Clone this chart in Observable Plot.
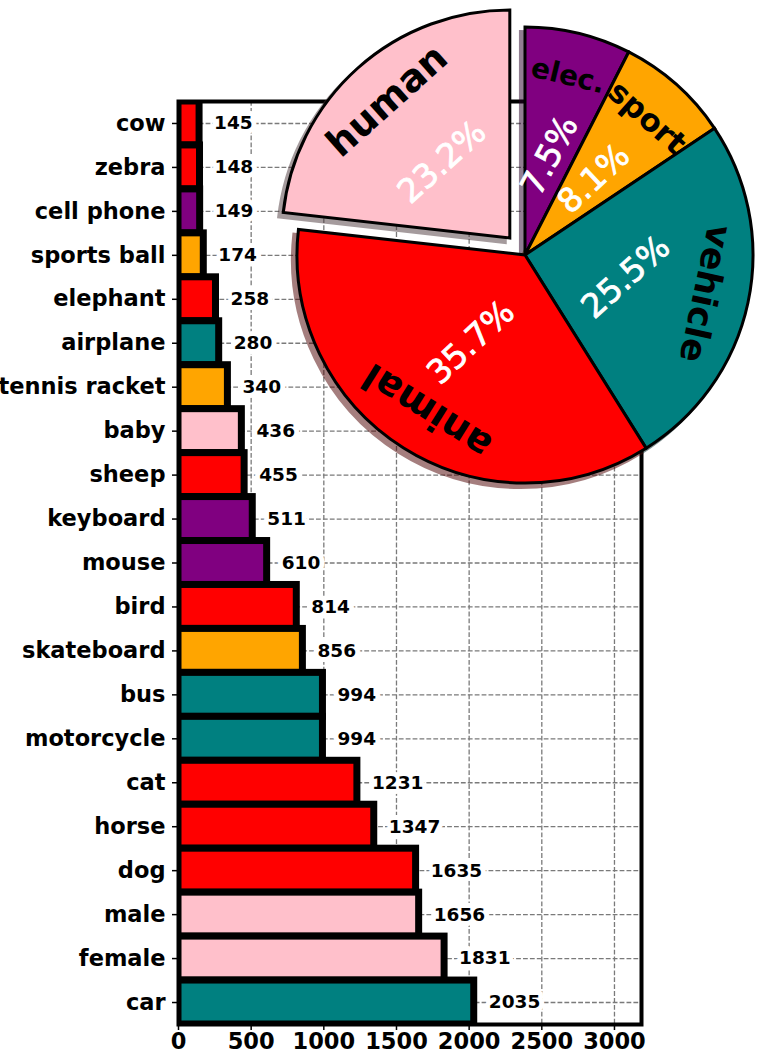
<!DOCTYPE html>
<html><head><meta charset="utf-8">
<script src="https://cdn.jsdelivr.net/npm/d3@7"></script>
<script src="https://cdn.jsdelivr.net/npm/@observablehq/plot@0.6"></script>
<style>body{margin:0;background:#fff} svg{display:block}</style>
</head><body><div id="chart"></div>
<script>
// ---- data ----
const names = ["cow","zebra","cell phone","sports ball","elephant","airplane","tennis racket","baby","sheep","keyboard","mouse","bird","skateboard","bus","motorcycle","cat","horse","dog","male","female","car"];
const counts = [145,148,149,174,258,280,340,436,455,511,610,814,856,994,994,1231,1347,1635,1656,1831,2035];
const groups = ["animal","animal","elec.","sport","animal","vehicle","sport","human","animal","elec.","elec.","animal","sport","vehicle","vehicle","animal","animal","animal","human","human","vehicle"];
const groupOrder = ["elec.","sport","vehicle","animal","human"];
const groupColors = ["#800080","#ffa500","#008080","#ff0000","#ffc0cb"];
const explode = [0,0,0,0,0.1];
const xTicks = [0,500,1000,1500,2000,2500,3000];

const rows = names.map((n,i)=>({name:n, count:counts[i], group:groups[i]}));
const font = "'DejaVu Sans', sans-serif";

const plot = Plot.plot({
  width: 780, height: 1053,
  marginTop: 101, marginBottom: 29, marginLeft: 178, marginRight: 139,
  style: {fontFamily: font, background: "white", overflow: "visible"},
  x: {domain: [0, 3186]},
  y: {domain: names, padding: 0, round: false},
  color: {domain: groupOrder, range: groupColors},
  marks: [
    Plot.gridX(xTicks, {stroke: "#7a7a7a", strokeOpacity: 1, strokeWidth: 1.3, strokeDasharray: "4.8,2.1"}),
    Plot.gridY(names, {stroke: "#7a7a7a", strokeOpacity: 1, strokeWidth: 1.3, strokeDasharray: "4.8,2.1"}),
    Plot.barX(rows, {x: "count", y: "name", fill: "group", stroke: "black", strokeWidth: 7, clip: true}),
    Plot.text(rows, {x: d => d.count + 100, y: "name", text: d => String(d.count), textAnchor: "start",
      fontSize: 18.5, fontWeight: "bold", fill: "black", stroke: "white", strokeWidth: 10}),
    Plot.frame({stroke: "black", strokeWidth: 4}),
    Plot.axisY({tickSize: 6, tickPadding: 7, fontSize: 22.5, fontWeight: "bold", label: null, strokeWidth: 1.5}),
    Plot.axisX(xTicks, {tickSize: 6, tickPadding: 3, fontSize: 22.5, fontWeight: "bold", label: null, strokeWidth: 1.5, tickFormat: d => String(d)})
  ]
});
document.getElementById("chart").appendChild(plot);

// ---- pie (grouped totals) ----
const totals = d3.rollup(rows, v => d3.sum(v, d => d.count), d => d.group);
const pieData = groupOrder.map((g,i)=>({group:g, value: totals.get(g), color: groupColors[i], explode: explode[i]}));
const total = d3.sum(pieData, d => d.value);
const arcs = d3.pie().sort(null).value(d => d.value)(pieData);
const R = 228, cx = 525, cy = 255;
const labelDist = 0.81, pctDist = 0.45;
const labelSize = {"elec.": 28, "sport": 31, "vehicle": 35, "animal": 38, "human": 38};
const pctRot = {"elec.": 62, "sport": 43, "vehicle": 42, "animal": 43, "human": 42};
const arc = d3.arc().innerRadius(0).outerRadius(R);
const svg = d3.select(plot);
const g = svg.append("g").attr("transform", `translate(${cx},${cy})`);
function off(d){ const m=(d.startAngle+d.endAngle)/2, o=d.data.explode*R; return [o*Math.sin(m), -o*Math.cos(m)]; }
function shade(c){ const r=d3.rgb(c); return d3.rgb(r.r*0.3, r.g*0.3, r.b*0.3).formatHex(); }
// shadows
g.append("g").selectAll("path").data(arcs).join("path")
  .attr("d", arc)
  .attr("transform", d => { const [dx,dy]=off(d); return `translate(${dx-0.02*R},${dy+0.02*R})`; })
  .attr("fill", d => shade(d.data.color)).attr("stroke", d => shade(d.data.color))
  .attr("stroke-width", 3).attr("opacity", 0.5);
// wedges
g.append("g").selectAll("path").data(arcs).join("path")
  .attr("d", arc)
  .attr("transform", d => { const [dx,dy]=off(d); return `translate(${dx},${dy})`; })
  .attr("fill", d => d.data.color).attr("stroke", "black").attr("stroke-width", 3).attr("stroke-linejoin","miter");
// labels
g.append("g").selectAll("text").data(arcs).join("text")
  .attr("transform", d => { const [dx,dy]=off(d); const m=(d.startAngle+d.endAngle)/2;
    const x=dx+labelDist*R*Math.sin(m), y=dy-labelDist*R*Math.cos(m);
    return `translate(${x},${y}) rotate(${m*180/Math.PI})`; })
  .attr("text-anchor","middle").attr("dominant-baseline","central")
  .attr("font-family", font).attr("font-weight","bold")
  .attr("font-size", d => labelSize[d.data.group]).attr("fill","black")
  .text(d => d.data.group);
// percentages
g.append("g").selectAll("text").data(arcs).join("text")
  .attr("transform", d => { const [dx,dy]=off(d); const m=(d.startAngle+d.endAngle)/2;
    const x=dx+pctDist*R*Math.sin(m), y=dy-pctDist*R*Math.cos(m);
    return `translate(${x},${y}) rotate(${-pctRot[d.data.group]})`; })
  .attr("text-anchor","middle").attr("dominant-baseline","central")
  .attr("font-family", font).attr("font-weight","normal")
  .attr("font-size", 33).attr("fill","white").attr("stroke","white").attr("stroke-width", 0.8)
  .text(d => d3.format(".1f")(100*d.data.value/total) + "%");
</script>
</body></html>
